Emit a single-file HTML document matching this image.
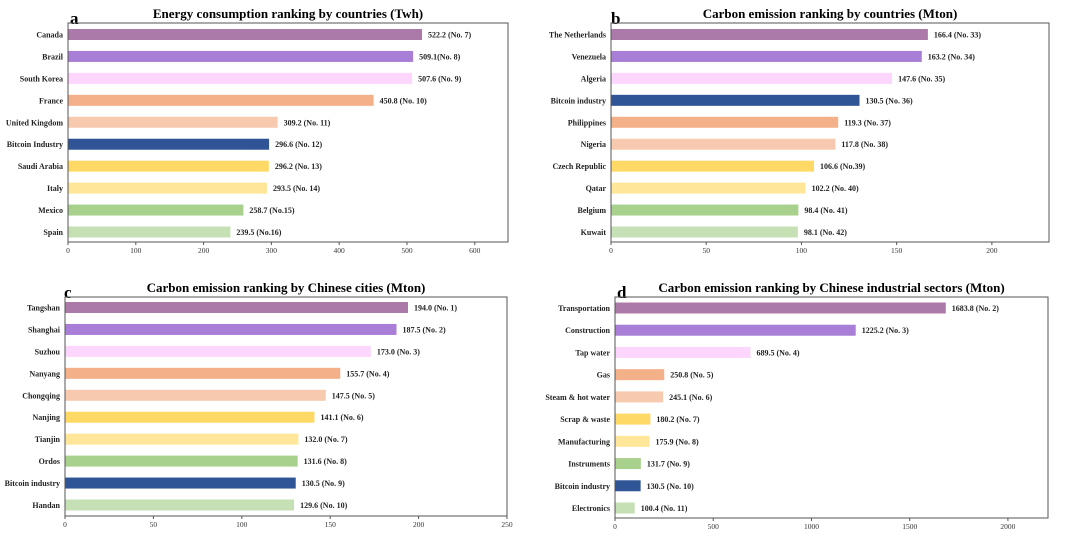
<!DOCTYPE html>
<html><head><meta charset="utf-8"><style>
html,body{margin:0;padding:0;background:#fff;width:1080px;height:536px;overflow:hidden}
svg{display:block;font-family:"Liberation Serif",serif}
</style></head><body>
<svg id="chart" width="1080" height="536" viewBox="0 0 1080 536" xmlns="http://www.w3.org/2000/svg"></svg>
<script>
const colorsA=["#AC7AA8","#A97ED6","#FCD6FC","#F4B088","#F7C9AE","#2F5597","#FFD966","#FFE699","#A9D18E","#C5E0B4"];
const colorsB=["#AC7AA8","#A97ED6","#FCD6FC","#2F5597","#F4B088","#F7C9AE","#FFD966","#FFE699","#A9D18E","#C5E0B4"];
const colorsC=["#AC7AA8","#A97ED6","#FCD6FC","#F4B088","#F7C9AE","#FFD966","#FFE699","#A9D18E","#2F5597","#C5E0B4"];

const catsA=["Canada","Brazil","South Korea","France","United Kingdom","Bitcoin Industry","Saudi Arabia","Italy","Mexico","Spain"];
const valsA=[522.2,509.1,507.6,450.8,309.2,296.6,296.2,293.5,258.7,239.5];
const labsA=["522.2 (No. 7)","509.1(No. 8)","507.6 (No. 9)","450.8 (No. 10)","309.2 (No. 11)","296.6 (No. 12)","296.2 (No. 13)","293.5 (No. 14)","258.7 (No.15)","239.5 (No.16)"];
const ticksA=[0,100,200,300,400,500,600];

const catsB=["The Netherlands","Venezuela","Algeria","Bitcoin industry","Philippines","Nigeria","Czech Republic","Qatar","Belgium","Kuwait"];
const valsB=[166.4,163.2,147.6,130.5,119.3,117.8,106.6,102.2,98.4,98.1];
const labsB=["166.4  (No. 33)","163.2 (No. 34)","147.6 (No. 35)","130.5 (No. 36)","119.3 (No. 37)","117.8 (No. 38)","106.6 (No.39)","102.2 (No. 40)","98.4 (No. 41)","98.1 (No. 42)"];
const ticksB=[0,50,100,150,200];

const catsC=["Tangshan","Shanghai","Suzhou","Nanyang","Chongqing","Nanjing","Tianjin","Ordos","Bitcoin industry","Handan"];
const valsC=[194.0,187.5,173.0,155.7,147.5,141.1,132.0,131.6,130.5,129.6];
const labsC=["194.0 (No. 1)","187.5 (No. 2)","173.0 (No. 3)","155.7 (No. 4)","147.5 (No. 5)","141.1 (No. 6)","132.0 (No. 7)","131.6 (No. 8)","130.5 (No. 9)","129.6 (No. 10)"];
const ticksC=[0,50,100,150,200,250];

const catsD=["Transportation","Construction","Tap water","Gas","Steam & hot water","Scrap & waste","Manufacturing","Instruments","Bitcoin industry","Electronics"];
const valsD=[1683.8,1225.2,689.5,250.8,245.1,180.2,175.9,131.7,130.5,100.4];
const labsD=["1683.8 (No. 2)","1225.2 (No. 3)","689.5 (No. 4)","250.8 (No. 5)","245.1 (No. 6)","180.2 (No. 7)","175.9 (No. 8)","131.7 (No. 9)","130.5 (No. 10)","100.4 (No. 11)"];
const ticksD=[0,500,1000,1500,2000];

const svg=document.getElementById('chart');
const NS="http://www.w3.org/2000/svg";
function mk(tag,attrs,parent){const e=document.createElementNS(NS,tag);for(const k in attrs)e.setAttribute(k,attrs[k]);parent.appendChild(e);return e;}

function panel(id,letter,title,box,max,cats,vals,labs,ticks,colors){
  const g=mk('g',{},svg);
  
  
  const x=v=>box.x0+(v/max)*(box.x1-box.x0);
  const step=(box.cLast-box.cFirst)/(cats.length-1);
  const y=i=>box.cFirst+i*step;
  const t=mk('text',{x:(box.x0+box.x1)/2,y:box.y0-5,'text-anchor':'middle','font-size':13,'font-weight':'bold',fill:'#000'},g);
  t.textContent=title;
  
  
  const l=mk('text',{x:box.lx,y:box.y0+1,'font-size':17,'font-weight':'bold',fill:'#000'},g);
  l.textContent=letter;
  
  
  cats.forEach((c,i)=>{
    const r=mk('rect',{x:x(0),y:y(i)-5.5,width:x(vals[i])-x(0),height:11,fill:colors[i]},g);
    
    
    const ct=mk('text',{x:box.x0-5,y:y(i)+3,'text-anchor':'end','font-size':8,'font-weight':'bold',fill:'#222'},g);
    ct.textContent=c;
    
    
    const vt=mk('text',{x:x(vals[i])+6,y:y(i)+3,'font-size':8,'font-weight':'bold',fill:'#222'},g);
    vt.textContent=labs[i];
    
    
  });
  const fr=mk('rect',{x:box.x0,y:box.y0,width:box.x1-box.x0,height:box.y1-box.y0,fill:'none',stroke:'#555','stroke-width':1},g);
  
  
  ticks.forEach(tv=>{
    mk('line',{x1:x(tv),x2:x(tv),y1:box.y1,y2:box.y1+3,stroke:'#555'},g);
    const tt=mk('text',{x:x(tv),y:box.y1+11,'text-anchor':'middle','font-size':7.5,fill:'#333'},g);
    tt.textContent=tv;
    
    
  });
}
panel('a','a','Energy consumption ranking by countries (Twh)',{x0:68,x1:508,y0:23,y1:242,cFirst:34.5,cLast:232,lx:70},649,catsA,valsA,labsA,ticksA,colorsA);
panel('b','b','Carbon emission ranking by countries (Mton)',{x0:611,x1:1049,y0:23,y1:242,cFirst:34.5,cLast:232,lx:611},230,catsB,valsB,labsB,ticksB,colorsB);
panel('c','c','Carbon emission ranking by Chinese cities (Mton)',{x0:65,x1:507,y0:297,y1:516,cFirst:307.5,cLast:505,lx:64},250,catsC,valsC,labsC,ticksC,colorsC);
panel('d','d','Carbon emission ranking by Chinese industrial sectors (Mton)',{x0:615,x1:1048,y0:297,y1:518,cFirst:308,cLast:508,lx:617},2204,catsD,valsD,labsD,ticksD,colorsC);
</script>
</body></html>
